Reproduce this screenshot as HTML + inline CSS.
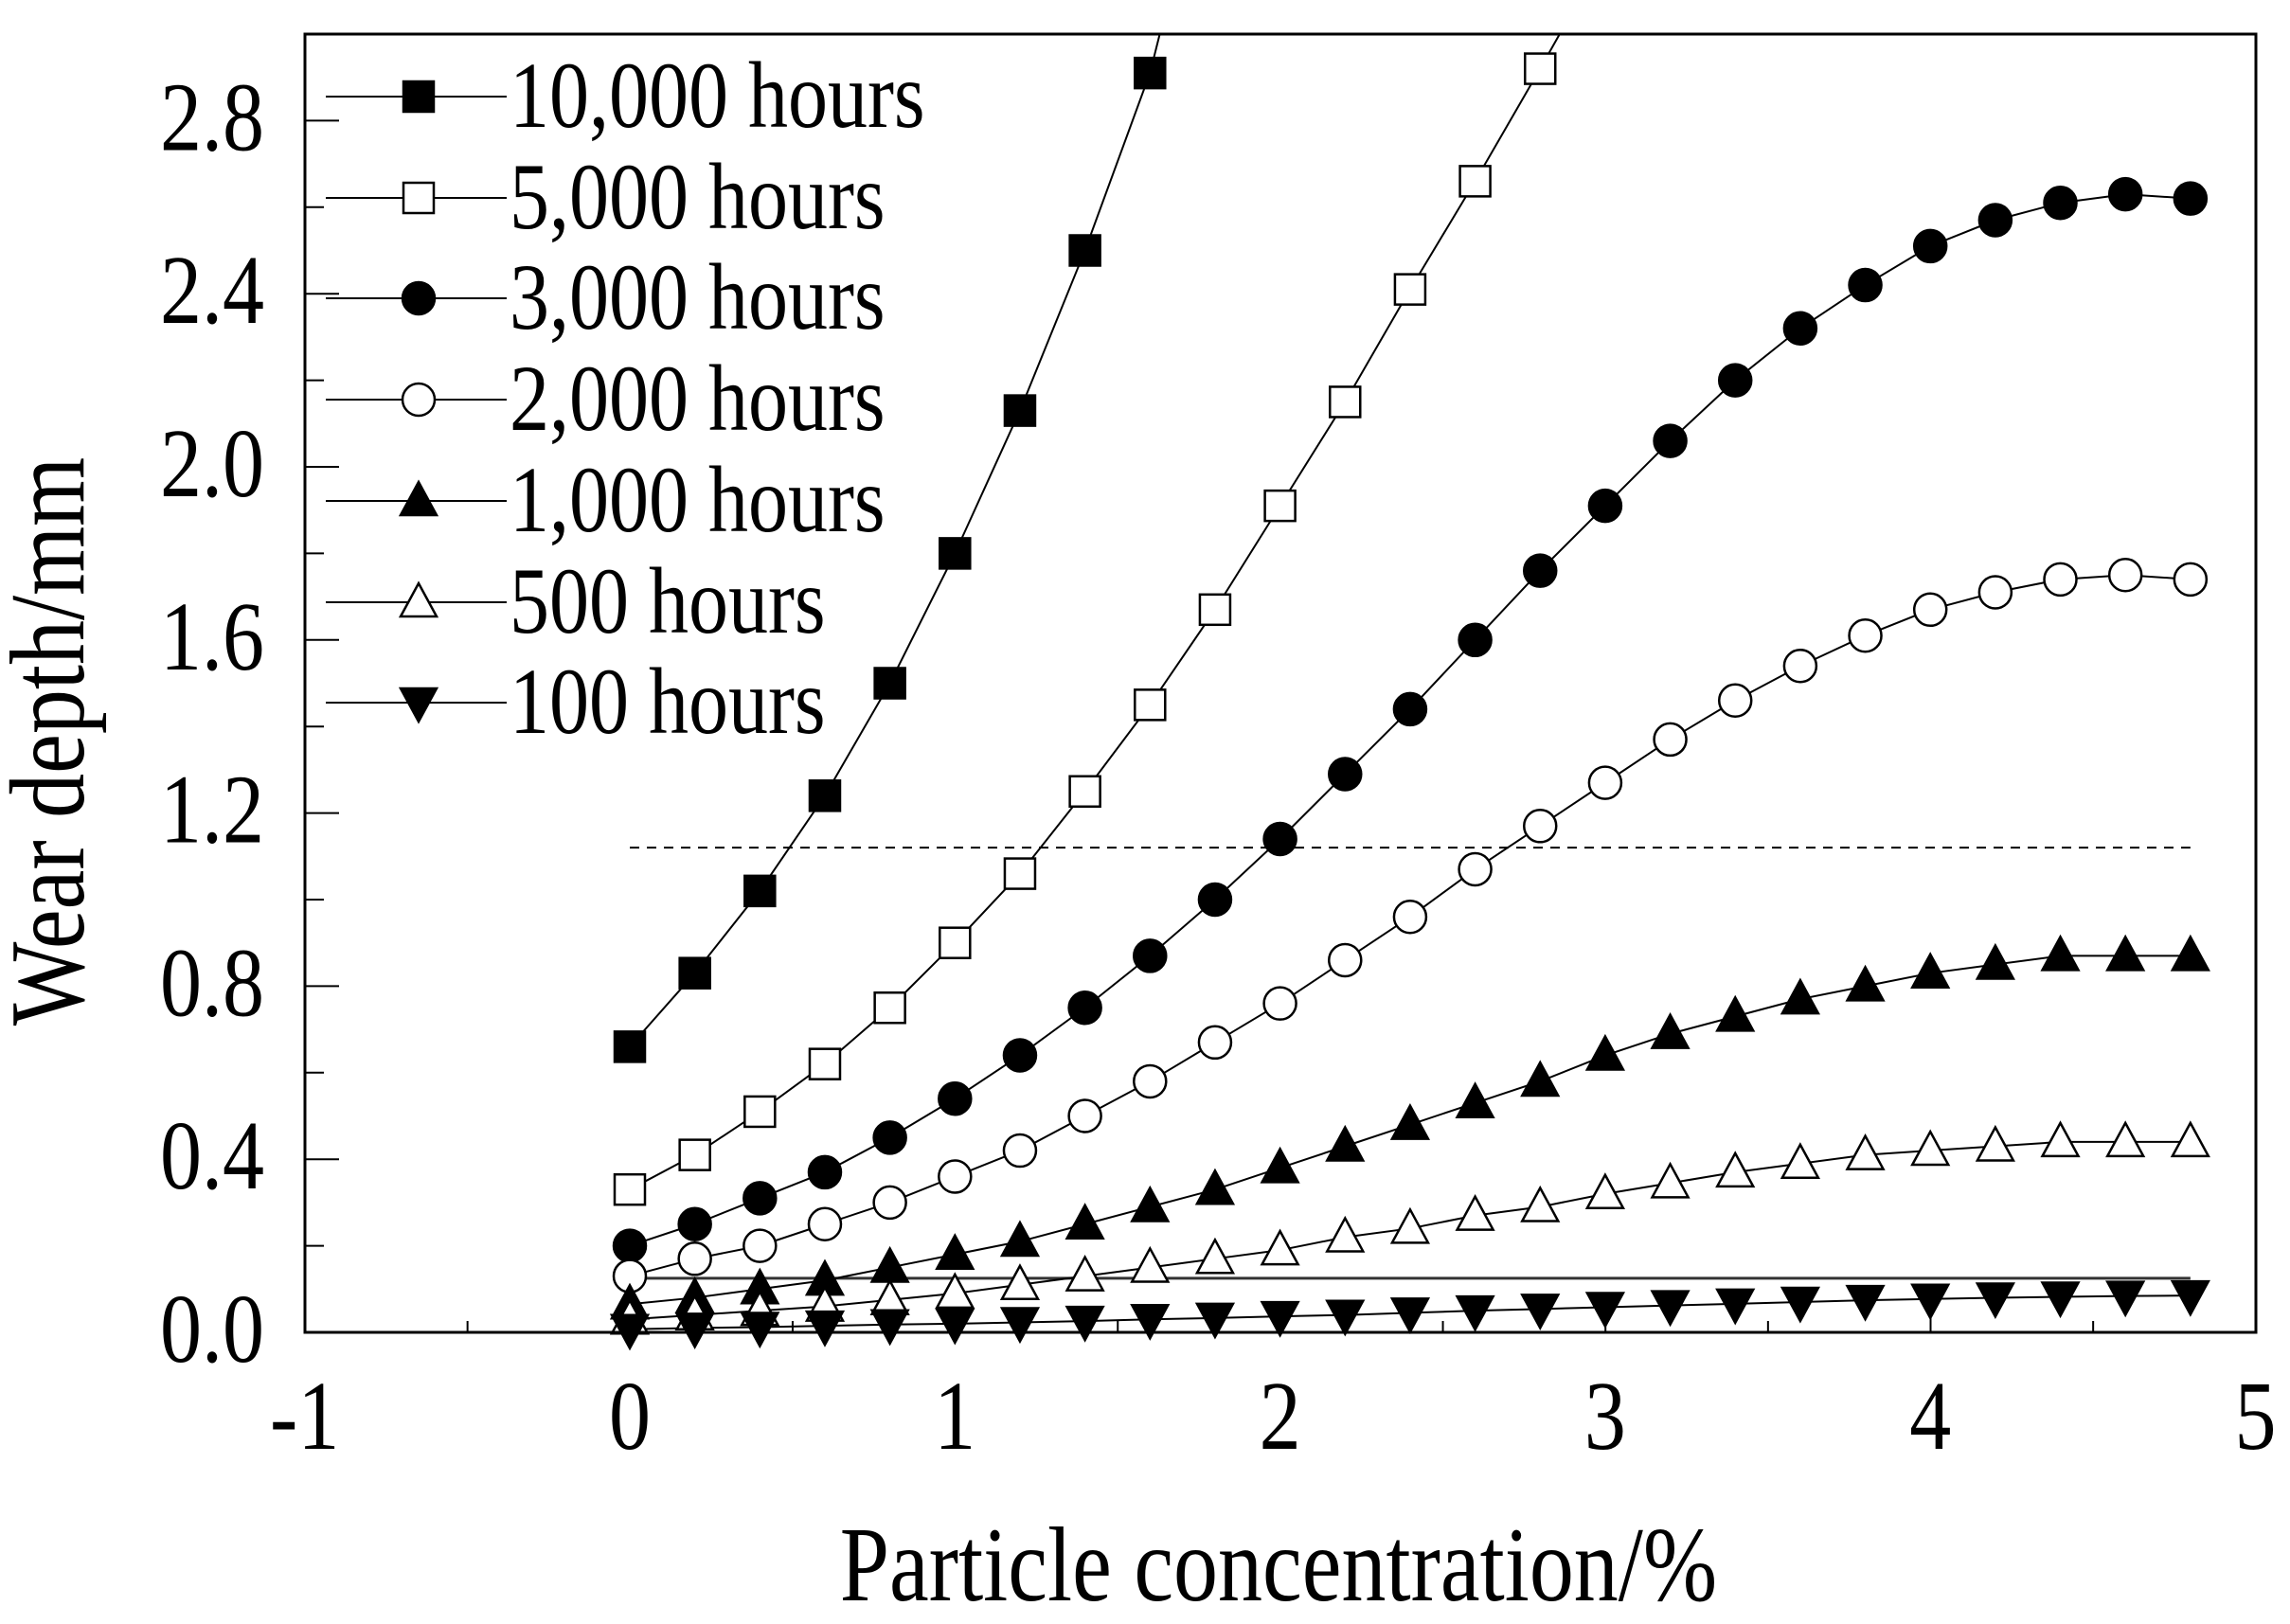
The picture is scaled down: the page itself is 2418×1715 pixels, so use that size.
<!DOCTYPE html>
<html><head><meta charset="utf-8"><style>
html,body{margin:0;padding:0;background:#fff;}
svg{display:block;font-family:"Liberation Serif",serif;}
</style></head><body>
<svg id="s" width="2418" height="1715" viewBox="0 0 2418 1715" xmlns="http://www.w3.org/2000/svg">
<rect width="2418" height="1715" fill="#fff"/>
<g id="plot"></g>
<rect x="322" y="36" width="2060" height="1371" fill="none" stroke="#000" stroke-width="3"/>
<g id="labels" fill="#000"></g>
<g id="leg"></g>
</svg>
<script>
var NS="http://www.w3.org/2000/svg";
var X0=665,XU=343.3,Y0=1407,YU=457;
function px(x){return X0+x*XU}function py(y){return Y0-y*YU}
function el(t,a,p){var e=document.createElementNS(NS,t);for(var k in a)e.setAttribute(k,a[k]);p.appendChild(e);return e}
function txt(p,s,x,y,fs,anchor,sy,rot){var t=el('text',{x:0,y:0,'font-size':fs,'text-anchor':anchor,transform:'translate('+x+','+y+')'+(rot?' rotate(-90)':'')+' scale(1,'+sy+')'},p);t.textContent=s;return t}
var g=document.getElementById('plot'),lg=document.getElementById('leg'),lb=document.getElementById('labels');
for(var i=0;i<=12;i++){var x=322+i*XU/2;var L=i%2?12:22;el('line',{x1:x,y1:1407,x2:x,y2:1407-L,stroke:'#000','stroke-width':2},g)}
for(var i=0;i<=14;i++){var y=Y0-i*0.2*YU;var L=i%2?20:36;el('line',{x1:322,y1:y,x2:322+L,y2:y,stroke:'#000','stroke-width':2},g)}
for(var i=0;i<=7;i++){var v=i*0.4;txt(lb,v.toFixed(1),279,py(v)+31,88,'end',1.18)}
for(var i=-1;i<=5;i++){txt(lb,String(i),px(i),1530,88,'middle',1.18)}
txt(lb,'Particle concentration/%',1350,1690,94,'middle',1.2);
txt(lb,'Wear depth/mm',88,783,94,'middle',1.2,true);
el('line',{x1:px(0),y1:py(1.12),x2:px(4.8),y2:py(1.12),stroke:'#000','stroke-width':2,'stroke-dasharray':'10,8'},g);
el('line',{x1:px(0),y1:py(0.125),x2:px(4.8),y2:py(0.125),stroke:'#333','stroke-width':3},g);
function mk(type,cx,cy,p){
 var fill=(type[1]=='f')?'#000':'#fff',a={fill:fill,stroke:'#000','stroke-width':2.5};
 var s=type[0];
 if(s=='s'){a.x=cx-16;a.y=cy-16;a.width=32;a.height=32;el('rect',a,p)}
 else if(s=='c'){a.cx=cx;a.cy=cy;a.r=17;el('circle',a,p)}
 else if(s=='t'){a.points=(cx-19)+','+(cy+15)+' '+(cx+19)+','+(cy+15)+' '+cx+','+(cy-20);el('polygon',a,p)}
 else {a.points=(cx-19)+','+(cy-15)+' '+(cx+19)+','+(cy-15)+' '+cx+','+(cy+20);el('polygon',a,p)}
}
var S=[
['sf','10,000 hours',[0.66,0.83,1.02,1.24,1.50,1.80,2.13,2.50,2.91],[1.63,3.0]],
['so','5,000 hours',[0.33,0.41,0.51,0.62,0.75,0.90,1.06,1.25,1.45,1.67,1.91,2.15,2.41,2.66,2.92],[2.86,3.0]],
['cf','3,000 hours',[0.20,0.25,0.31,0.37,0.45,0.54,0.64,0.75,0.87,1.00,1.14,1.29,1.44,1.60,1.76,1.91,2.06,2.20,2.32,2.42,2.51,2.57,2.61,2.63,2.62]],
['co','2,000 hours',[0.13,0.17,0.20,0.25,0.30,0.36,0.42,0.50,0.58,0.67,0.76,0.86,0.96,1.07,1.17,1.27,1.37,1.46,1.54,1.61,1.67,1.71,1.74,1.75,1.74]],
['tf','1,000 hours',[0.065,0.08,0.10,0.12,0.15,0.18,0.21,0.25,0.29,0.33,0.38,0.43,0.48,0.53,0.58,0.64,0.69,0.73,0.77,0.80,0.83,0.85,0.87,0.87,0.87]],
['to','500 hours',[0.03,0.04,0.05,0.06,0.075,0.09,0.11,0.13,0.15,0.17,0.19,0.22,0.24,0.27,0.29,0.32,0.345,0.37,0.39,0.41,0.42,0.43,0.44,0.44,0.44]],
['vf','100 hours',[0.007,0.01,0.012,0.015,0.018,0.02,0.023,0.026,0.03,0.033,0.037,0.04,0.045,0.05,0.054,0.058,0.062,0.066,0.07,0.074,0.077,0.08,0.082,0.084,0.085]]
];
var rows=[102,209,315,422,529,636,742];
S.forEach(function(s,k){
 var pts=s[2].map(function(v,i){return px(i*0.2)+','+py(v)});
 if(s[3])pts.push(px(s[3][0])+','+py(s[3][1]));
 el('polyline',{points:pts.join(' '),fill:'none',stroke:'#000','stroke-width':2},g);
});
S.forEach(function(s,k){
 s[2].forEach(function(v,i){mk(s[0],px(i*0.2),py(v),g)});
 var y=rows[k];
 el('line',{x1:344,y1:y,x2:535,y2:y,stroke:'#000','stroke-width':2},lg);
 mk(s[0],442,y,lg);
 txt(lg,s[1],538,y+32,84,'start',1.18);
});
</script>
</body></html>
